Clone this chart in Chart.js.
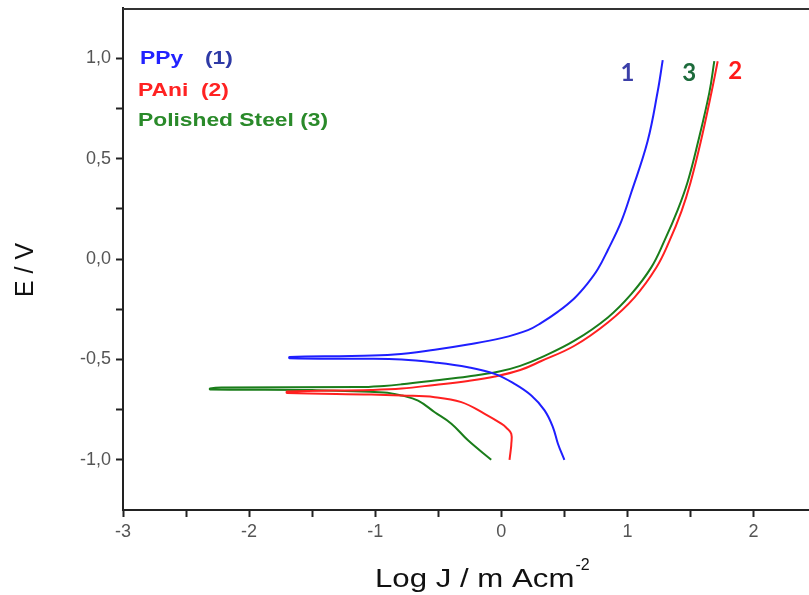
<!DOCTYPE html>
<html lang="en">
<head>
<meta charset="UTF-8">
<style>
body {
    margin: 0;
    background: #fff;
    overflow: hidden;
}
#chartBox {
    width: 809px;
    height: 595px;
}
</style>
</head>
<body>
<div id="chartBox">
<canvas id="tafel" width="809" height="595"></canvas>
</div>
<script src="https://cdn.jsdelivr.net/npm/chart.js"></script>
<script>
// PPy (1) - cathodic branch from -1 V up to the tip, then anodic branch
const ppyLogJ = [0.50, 0.449, 0.409, 0.343, 0.238, 0.105, -0.053, -0.264, -0.528, -0.79, -1.13, -1.68,
                 -1.68, -1.19, -0.85, -0.528, -0.264, 0, 0.211, 0.317, 0.45, 0.58, 0.68, 0.766, 0.845, 0.95, 1.03, 1.16, 1.24, 1.28];
const ppyE = [-1.0, -0.92, -0.837, -0.754, -0.68, -0.622, -0.572, -0.539, -0.515, -0.50, -0.497, -0.494,
              -0.488, -0.483, -0.476, -0.452, -0.426, -0.394, -0.354, -0.318, -0.262, -0.195, -0.125, -0.05, 0.045, 0.185, 0.33, 0.586, 0.834, 0.99];

// PAni (2)
const paniLogJ = [0.065, 0.075, 0.079, 0.079, 0.04, 0, -0.132, -0.317, -0.528, -0.79, -1.03, -1.70,
                  -1.70, -1.03, -0.79, -0.528, -0.264, -0.05, 0.15, 0.317, 0.58, 0.845, 1.055, 1.227, 1.33, 1.43, 1.50, 1.58, 1.668, 1.716];
const paniE = [-1.0, -0.95, -0.925, -0.87, -0.84, -0.82, -0.771, -0.713, -0.688, -0.68, -0.675, -0.667,
               -0.66, -0.652, -0.645, -0.627, -0.607, -0.585, -0.553, -0.508, -0.432, -0.316, -0.192, -0.045, 0.085, 0.24, 0.38, 0.58, 0.834, 0.985];

// Polished steel (3)
const steelLogJ = [-0.08, -0.264, -0.396, -0.528, -0.66, -0.79, -0.93, -1.5, -2.31,
                   -2.31, -2.22, -1.13, -0.93, -0.79, -0.528, -0.264, -0.026, 0.15, 0.317, 0.58, 0.845, 1.03, 1.188, 1.293, 1.399, 1.478, 1.557, 1.65, 1.689];
const steelE = [-1.0, -0.903, -0.82, -0.763, -0.705, -0.68, -0.665, -0.653, -0.65,
                -0.645, -0.64, -0.638, -0.632, -0.624, -0.605, -0.585, -0.562, -0.532, -0.49, -0.407, -0.291, -0.175, -0.043, 0.09, 0.245, 0.385, 0.575, 0.83, 0.985];

// axis ticks (minor ones get no label)
const xTicks = [-3, -2.5, -2, -1.5, -1, -0.5, 0, 0.5, 1, 1.5, 2];
const yTicks = [-1, -0.75, -0.5, -0.25, 0, 0.25, 0.5, 0.75, 1];

// curve number labels, placed in data units
const curveLabels = ['1', '2', '3'];
const curveLabelX = [1.0, 1.855, 1.49];
const curveLabelY = [0.925, 0.935, 0.925];
const curveLabelColors = ['#3b3fa8', '#ff1a1a', '#1d6b3c'];

const toPoints = (xs, ys) => xs.map((v, i) => ({x: v, y: ys[i]}));

const overlay = {
    id: 'overlay',
    afterDraw(chart) {
        const {ctx, chartArea: a, scales: {x, y}} = chart;
        ctx.save();

        // top frame line
        ctx.strokeStyle = '#333';
        ctx.lineWidth = 2;
        ctx.beginPath();
        ctx.moveTo(a.left, a.top + 1);
        ctx.lineTo(a.right, a.top + 1);
        ctx.stroke();

        // legend text block
        const legendRow = (parts, cy) => {
            parts.forEach(p => {
                ctx.save();
                ctx.translate(p[2], cy);
                ctx.scale(1.2, 1);
                ctx.font = 'bold 19px "Liberation Sans", Arial, sans-serif';
                ctx.fillStyle = p[1];
                ctx.textBaseline = 'middle';
                ctx.fillText(p[0], 0, 0);
                ctx.restore();
            });
        };
        legendRow([['PPy', '#2222ff', 140], ['(1)', '#2e3aa6', 205]], 59);
        legendRow([['PAni', '#ff2222', 138], ['(2)', '#ff2222', 201]], 91);
        legendRow([['Polished Steel (3)', '#2a8a2a', 138]], 121);

        // curve numbers
        ctx.font = 'bold 24px Lato, "Open Sans", sans-serif';
        ctx.textAlign = 'center';
        ctx.textBaseline = 'middle';
        curveLabels.forEach((t, i) => {
            ctx.fillStyle = curveLabelColors[i];
            ctx.fillText(t, x.getPixelForValue(curveLabelX[i]), y.getPixelForValue(curveLabelY[i]));
        });

        // x axis title with superscript
        ctx.fillStyle = '#111';
        ctx.textAlign = 'left';
        ctx.textBaseline = 'alphabetic';
        ctx.font = '26px "Liberation Sans", Arial, sans-serif';
        const main = 'Log J / m Acm';
        const w = ctx.measureText(main).width * 1.2;
        const tx = 375;
        ctx.save();
        ctx.translate(tx, 587);
        ctx.scale(1.2, 1);
        ctx.fillText(main, 0, 0);
        ctx.restore();
        ctx.font = '16px "Liberation Sans", Arial, sans-serif';
        ctx.fillText('-2', tx + w + 1, 570);

        // y axis title
        ctx.save();
        ctx.translate(26, 270);
        ctx.rotate(-Math.PI / 2);
        ctx.font = '25px "Liberation Sans", Arial, sans-serif';
        ctx.textAlign = 'center';
        ctx.textBaseline = 'middle';
        ctx.fillText('E / V', 0, 0);
        ctx.restore();

        ctx.restore();
    }
};

const tickGrid = {
    display: true,
    drawOnChartArea: false,
    drawTicks: true,
    tickLength: 7,
    tickWidth: 2,
    tickColor: '#222'
};

const lineStyle = {
    borderWidth: 2,
    showLine: true,
    pointRadius: 0,
    tension: 0.4
};

new Chart(document.getElementById('tafel').getContext('2d'), {
    type: 'scatter',
    data: {
        datasets: [
            Object.assign({label: 'PPy (1)', data: toPoints(ppyLogJ, ppyE), borderColor: '#1f1fff'}, lineStyle),
            Object.assign({label: 'PAni (2)', data: toPoints(paniLogJ, paniE), borderColor: '#ff2020'}, lineStyle),
            Object.assign({label: 'Polished Steel (3)', data: toPoints(steelLogJ, steelE), borderColor: '#1a7d1a'}, lineStyle)
        ]
    },
    options: {
        responsive: false,
        animation: false,
        layout: {
            padding: {top: 8, right: 0, left: 0, bottom: 0}
        },
        scales: {
            x: {
                type: 'linear',
                min: -3,
                max: 2.44,
                afterFit: s => { s.height = 85; s.paddingLeft = 0; s.paddingRight = 0; },
                afterBuildTicks: s => { s.ticks = xTicks.map(v => ({value: v})); },
                border: {display: true, color: '#222', width: 2},
                grid: tickGrid,
                ticks: {
                    padding: 4,
                    color: '#555',
                    font: {family: '"Liberation Sans", Arial, sans-serif', size: 18},
                    maxRotation: 0,
                    autoSkip: false,
                    callback: v => Number.isInteger(v) ? String(v) : ''
                }
            },
            y: {
                type: 'linear',
                min: -1.25,
                max: 1.25,
                afterFit: s => { s.width = 123; s.paddingTop = 0; s.paddingBottom = 0; },
                afterBuildTicks: s => { s.ticks = yTicks.map(v => ({value: v})); },
                border: {display: true, color: '#222', width: 2},
                grid: tickGrid,
                ticks: {
                    padding: 5,
                    color: '#555',
                    font: {family: '"Liberation Sans", Arial, sans-serif', size: 18},
                    autoSkip: false,
                    callback: v => (Math.abs(v * 2 - Math.round(v * 2)) < 1e-9) ? v.toFixed(1).replace('.', ',') : ''
                }
            }
        },
        plugins: {
            legend: {display: false},
            tooltip: {enabled: false}
        }
    },
    plugins: [overlay]
});
</script>
</body>
</html>
